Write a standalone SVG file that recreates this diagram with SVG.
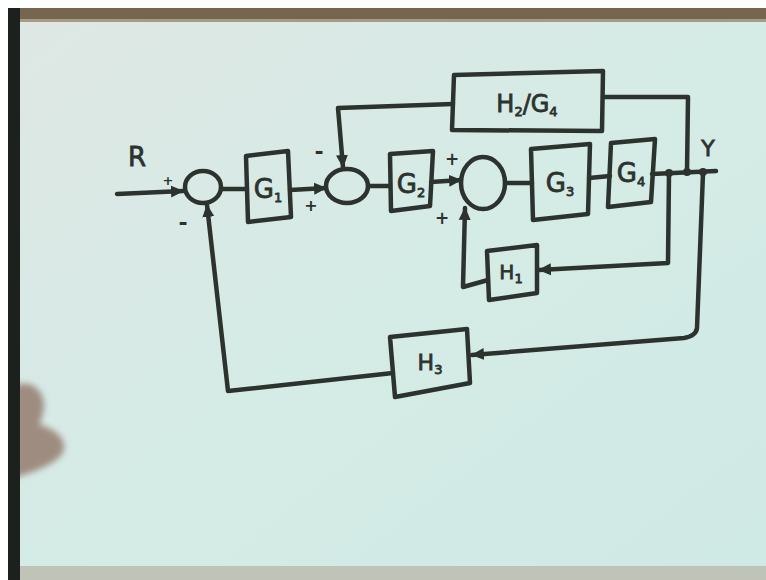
<svg xmlns="http://www.w3.org/2000/svg" width="766" height="580" viewBox="0 0 766 580">
<style>
.ink{fill:none;stroke:#2c332f;stroke-width:4.5;stroke-linejoin:round;stroke-linecap:round}
.lbl{font-family:"DejaVu Sans","Liberation Sans",sans-serif;fill:#2c332f;stroke:#2c332f;stroke-width:0.8;text-anchor:middle}
.big{font-size:26px}
.sub{font-size:13px}
.sign{font-family:"DejaVu Sans",sans-serif;fill:#2c332f;font-weight:bold;text-anchor:middle}
</style>
<defs>
<linearGradient id="board" x1="0" y1="0" x2="1" y2="1">
<stop offset="0" stop-color="#dfe7e4"/>
<stop offset="0.5" stop-color="#d5ebe6"/>
<stop offset="1" stop-color="#cfe9e4"/>
</linearGradient>
<filter id="soft" x="-30%" y="-30%" width="160%" height="160%"><feGaussianBlur stdDeviation="3"/></filter>
<marker id="arr" markerUnits="userSpaceOnUse" markerWidth="14" markerHeight="14" refX="12" refY="7" orient="auto">
<path d="M0,1 L13,7 L0,13 Z" fill="#2c332f"/>
</marker>
</defs>
<rect x="0" y="0" width="766" height="580" fill="#ffffff"/>
<rect x="8" y="8" width="758" height="572" fill="url(#board)"/>
<path d="M14,386 C30,378 44,390 44,405 C44,414 40,420 40,425 C52,428 66,436 64,450 C60,462 40,470 14,478 Z" fill="#9f8c80" filter="url(#soft)"/>
<rect x="8" y="8" width="758" height="14" fill="#74664f"/>
<rect x="8" y="19" width="758" height="3" fill="#a89b86"/>
<rect x="8" y="8" width="12" height="572" fill="#1d211e"/>
<rect x="20" y="566" width="746" height="14" fill="#c0c3b8"/>

<g id="connectors">
<path class="ink" d="M117,194 L183,191" marker-end="url(#arr)"/>
<path class="ink" d="M221,189 L247,189"/>
<path class="ink" d="M290,190 L326,188" marker-end="url(#arr)"/>
<path class="ink" d="M368,186 L390,186"/>
<path class="ink" d="M431,182 L461,180" marker-end="url(#arr)"/>
<path class="ink" d="M505,183 L532,183"/>
<path class="ink" d="M589,178 L610,176"/>
<path class="ink" d="M652,174 L716,171"/>
<path class="ink" d="M687,172 L688,97 L603,97"/>
<path class="ink" d="M453,104 L338,108 L343,167" marker-end="url(#arr)"/>
<path class="ink" d="M669,173 L668,263 L539,270" marker-end="url(#arr)"/>
<path class="ink" d="M488,280 L463,287 L465,208" marker-end="url(#arr)"/>
<path class="ink" d="M703,173 L697,328 Q696,336 684,338 L472,355" marker-end="url(#arr)"/>
<path class="ink" d="M393,373 L228,391 L207,205" marker-end="url(#arr)"/>
<circle cx="669" cy="173" r="4" fill="#2c332f"/>
<circle cx="687" cy="172" r="4" fill="#2c332f"/>
<circle cx="703" cy="172" r="4" fill="#2c332f"/>
</g>

<g id="R"><text class="lbl big" x="137" y="166">R</text></g>
<g id="Y"><text class="lbl" style="font-size:22px" x="708" y="156">Y</text></g>

<g id="sum1">
<ellipse class="ink" cx="203" cy="187" rx="18" ry="16"/>
<text class="sign" style="font-size:13px" x="168" y="185">+</text>
<text class="sign" style="font-size:22px" x="183" y="230">-</text>
</g>
<g id="sum2">
<ellipse class="ink" cx="347" cy="186" rx="21" ry="17"/>
<text class="sign" style="font-size:22px" x="319" y="159">-</text>
<text class="sign" style="font-size:16px" x="311" y="211">+</text>
</g>
<g id="sum3">
<ellipse class="ink" cx="483" cy="183" rx="22" ry="26"/>
<text class="sign" style="font-size:17px" x="452" y="165">+</text>
<text class="sign" style="font-size:17px" x="442" y="224">+</text>
</g>

<g id="G1">
<polygon class="ink" points="246,156 288,151 291,217 248,222"/>
<text class="lbl big" x="268" y="198">G<tspan class="sub" dy="4">1</tspan></text>
</g>
<g id="G2">
<polygon class="ink" points="390,154 433,151 430,206 391,211"/>
<text class="lbl big" x="411" y="193">G<tspan class="sub" dy="4">2</tspan></text>
</g>
<g id="G3">
<polygon class="ink" points="531,149 590,144 588,214 533,220"/>
<text class="lbl big" x="560" y="192">G<tspan class="sub" dy="4">3</tspan></text>
</g>
<g id="G4">
<polygon class="ink" points="611,143 655,139 651,202 608,207"/>
<text class="lbl big" x="631" y="182">G<tspan class="sub" dy="4">4</tspan></text>
</g>
<g id="H2G4">
<polygon class="ink" points="454,75 603,71 602,131 452,130"/>
<text class="lbl" style="font-size:24px" x="527" y="112">H<tspan class="sub" dy="4">2</tspan><tspan dy="-4">/G</tspan><tspan class="sub" dy="4">4</tspan></text>
</g>
<g id="H1">
<polygon class="ink" points="487,251 537,245 537,293 489,300"/>
<text class="lbl" style="font-size:20px" x="511" y="279">H<tspan class="sub" dy="4">1</tspan></text>
</g>
<g id="H3">
<polygon class="ink" points="390,337 467,329 470,383 395,397"/>
<text class="lbl" style="font-size:22px" x="430" y="370">H<tspan class="sub" dy="4">3</tspan></text>
</g>
</svg>
